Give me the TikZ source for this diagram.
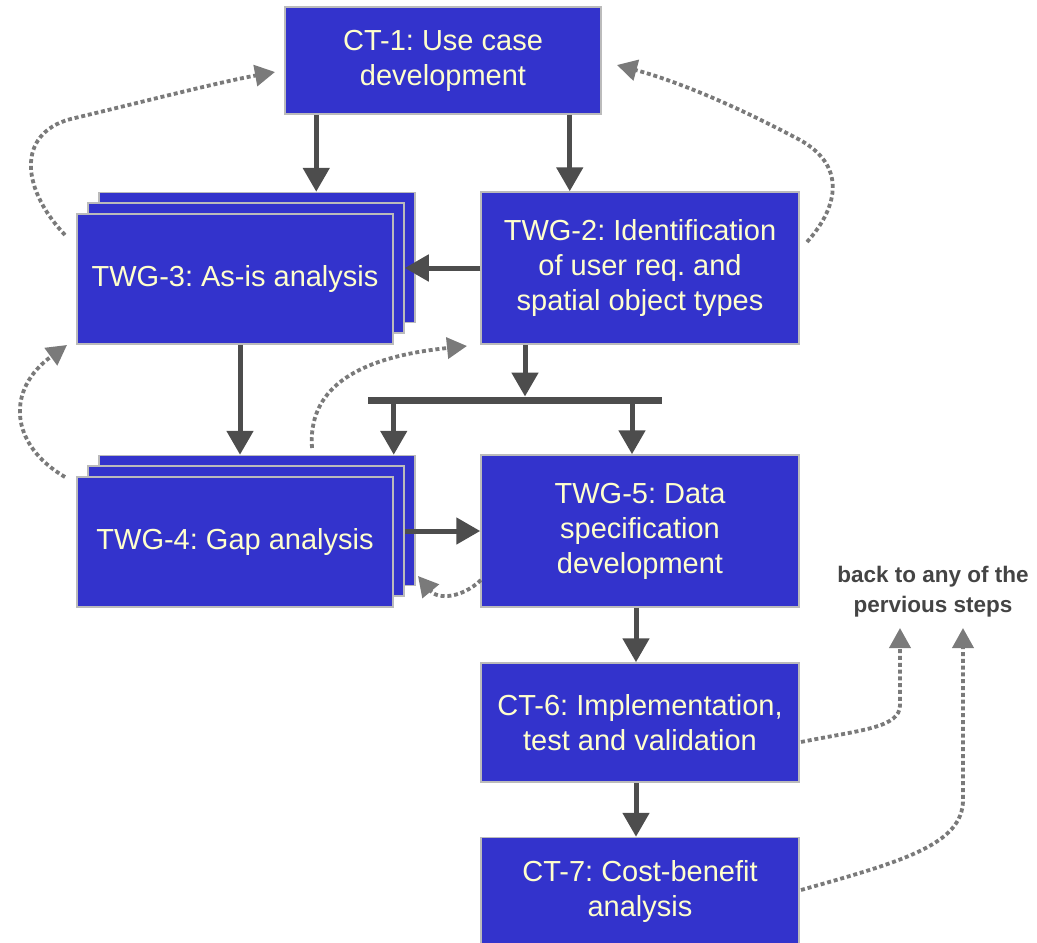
\documentclass[tikz,border=0pt]{standalone}
\usepackage{fontspec}
\setmainfont{Liberation Sans}
\frenchspacing
\usetikzlibrary{arrows.meta}
\definecolor{boxblue}{HTML}{3333CC}
\definecolor{boxtext}{HTML}{FFFFCC}
\definecolor{boxline}{HTML}{BBBBBB}
\definecolor{solidarr}{HTML}{4D4D4D}
\definecolor{dotarr}{HTML}{7A7A7A}
\definecolor{notetext}{HTML}{444444}
\begin{document}
\begin{tikzpicture}[x=1pt,y=-1pt,
  box/.style={draw=boxline, line width=1.5pt, fill=boxblue, text=boxtext, align=center, inner sep=0pt, font=\fontsize{29}{35}\selectfont},
  stackbox/.style={box, minimum width=316pt, minimum height=130pt},
  colbox/.style={box, minimum width=318pt},
  flow/.style={draw=solidarr, line width=5pt, -{Triangle[width=26pt,length=24pt]}},
  back/.style={draw=dotarr, line width=3.8pt, dash pattern=on 4pt off 2.8pt, -{Triangle[width=21pt,length=20pt]}},
  bus/.style={draw=solidarr, line width=7pt},
  note/.style={text=notetext, font=\bfseries\fontsize{22.5}{30}\selectfont, align=center}]
\useasboundingbox (0,0) rectangle (1037,943);

% boxes
\node[box, minimum width=316pt, minimum height=107pt] (ct1) at (443,60.5) {CT-1: Use case\\development};

\node[stackbox] (t3c) at (257,257.5) {};
\node[stackbox] (t3b) at (246,268) {};
\node[stackbox] (t3a) at (235,279) {TWG-3: As-is analysis};

\node[colbox, minimum height=152pt] (t2) at (640,268) {TWG-2: Identification\\of user req. and\\spatial object types};

\node[stackbox] (t4c) at (257,520.5) {};
\node[stackbox] (t4b) at (246,531) {};
\node[stackbox] (t4a) at (235,542) {TWG-4: Gap analysis};

\node[colbox, minimum height=152pt] (t5) at (640,531) {TWG-5: Data\\specification\\development};

\node[colbox, minimum height=119pt] (ct6) at (640,722.5) {CT-6: Implementation,\\test and validation};

\node[colbox, minimum height=107pt] (ct7) at (640,891) {CT-7: Cost-benefit\\analysis};

\node[note] (note) at (933,592) {back to any of the\\pervious steps};

% bus
\coordinate (busL) at (368,400);
\coordinate (busR) at (662,400);
\draw[bus] (busL) -- (busR);

% solid flow arrows
\draw[flow] ([xshift=32pt]ct1.south west) -- ([xshift=32pt]ct1.south west |- t3c.north);
\draw[flow] ([xshift=-32pt]ct1.south east) -- ([xshift=-32pt]ct1.south east |- t2.north);
\draw[flow] (t2.west) -- (t2.west -| t3b.east);
\draw[flow] ([xshift=5pt]t3a.south) -- ([xshift=5pt]t3a.south |- t4c.north);
\draw[flow, shorten >=3.5pt] ([xshift=-115pt]t2.south) -- ([xshift=-115pt]t2.south |- busL);
\draw[flow] (busL -| t4a.north east) -- (t4c.north -| t4a.north east);
\draw[flow] ([xshift=-8pt]t5.north |- busR) -- ([xshift=-8pt]t5.north);
\draw[flow] (t4b.east |- t5.west) -- (t5.west);
\draw[flow] ([xshift=-4pt]t5.south) -- ([xshift=-4pt]ct6.north);
\draw[flow] ([xshift=-4pt]ct6.south) -- ([xshift=-4pt]ct7.north);

% dotted feedback arrows
\coordinate (d1s) at (65,235);   \coordinate (d1e) at (275,72);
\coordinate (d2s) at (807,242);  \coordinate (d2e) at (617,65);
\coordinate (d3s) at (65,477);   \coordinate (d3e) at (67,345);
\coordinate (d4s) at (312,448);  \coordinate (d4e) at (467,346);
\coordinate (d5s) at (481,580);  \coordinate (d5e) at (418,576);
\coordinate (d6s) at (801,742);  \coordinate (d6e) at (900,628);
\coordinate (d7s) at (801,890);  \coordinate (d7e) at (963,628);

\draw[back] (d1s) .. controls (18,185) and (18,130) .. (75,118) .. controls (150,100) and (220,82) .. (d1e);
\draw[back] (d2s) .. controls (840,205) and (845,165) .. (800,140) .. controls (740,108) and (680,82) .. (d2e);
\draw[back] (d3s) .. controls (10,445) and (5,390) .. (d3e);
\draw[back] (d4s) .. controls (308,392) and (350,358) .. (d4e);
\draw[back] (d5s) .. controls (462,598) and (438,600) .. (d5e);
\draw[back] (d6s) .. controls (860,730) and (900,728) .. (900,705) -- (d6e);
\draw[back] (d7s) .. controls (900,862) and (963,845) .. (963,800) -- (d7e);
\end{tikzpicture}
\end{document}
